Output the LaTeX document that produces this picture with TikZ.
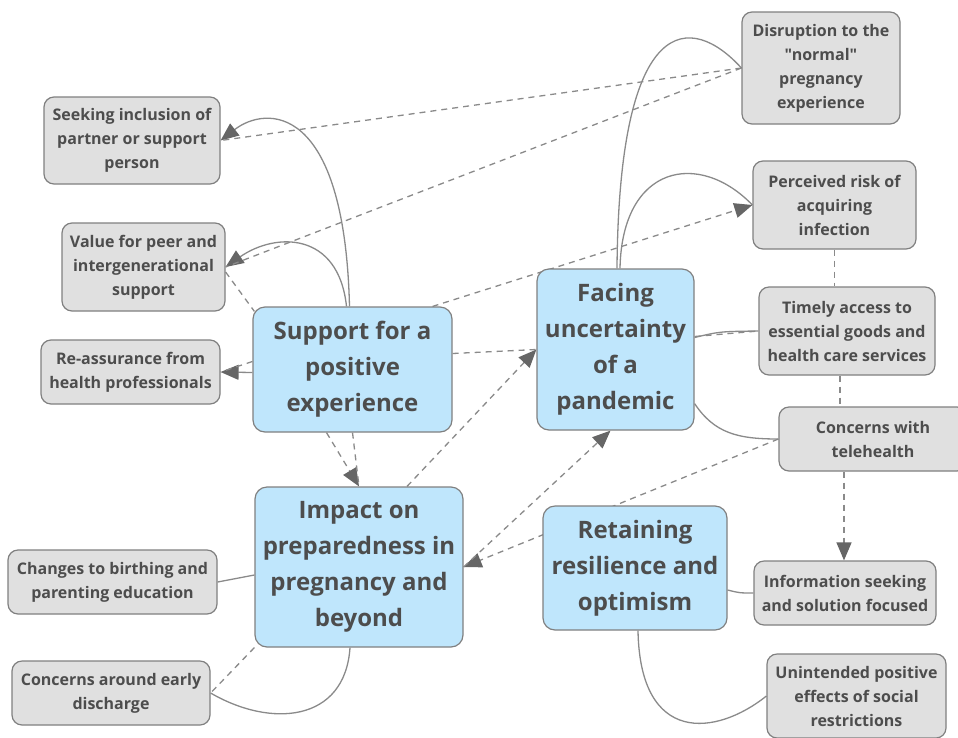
\documentclass[tikz,border=0pt]{standalone}
\usepackage{fontspec}
\setmainfont{Open Sans}[Ligatures=TeXOff]
\usetikzlibrary{arrows.meta,calc}
\definecolor{bluefill}{HTML}{BFE6FC}
\definecolor{grayfill}{HTML}{E0E0E0}
\definecolor{edgec}{HTML}{808080}
\definecolor{linec}{HTML}{8A8A8A}
\definecolor{tipc}{HTML}{666666}
\definecolor{txtc}{HTML}{4D4D4D}
\pgfdeclarelayer{bg}
\pgfsetlayers{bg,main}
\begin{document}
\begin{tikzpicture}[x=1pt,y=-1pt,
 gbox/.style={draw=edgec, fill=grayfill, rounded corners=10pt, line width=1.2pt, inner sep=0pt, align=center, text=txtc, font=\bfseries\fontsize{16}{24}\selectfont},
 bbox/.style={draw=edgec, fill=bluefill, rounded corners=12pt, line width=1.2pt, inner sep=0pt, align=center, text=txtc, font=\bfseries\fontsize{24}{36}\selectfont},
 conn/.style={draw=linec, line width=1.3pt},
 dconn/.style={conn, dash pattern=on 6pt off 5pt},
 tip/.style={-{Triangle[length=18pt,width=15pt,color=tipc]}},
]
\clip (0,0) rectangle (958,737);

% gray boxes
\node[gbox, minimum width=176pt, minimum height=87pt] (seek) at (132,140.5) {Seeking inclusion of\\partner or support\\person};
\node[gbox, minimum width=163pt, minimum height=88pt] (val) at (143.5,267) {Value for peer and\\intergenerational\\support};
\node[gbox, minimum width=179pt, minimum height=64pt] (reas) at (130.5,372) {Re-assurance from\\health professionals};
\node[gbox, minimum width=209pt, minimum height=64pt] (chg) at (112.5,582) {Changes to birthing and\\parenting education};
\node[gbox, minimum width=198pt, minimum height=64pt] (disc) at (111,693) {Concerns around early\\discharge};
\node[gbox, minimum width=158pt, minimum height=112pt] (disr) at (821,68) {Disruption to the\\"normal"\\pregnancy\\experience};
\node[gbox, minimum width=163pt, minimum height=88pt] (perc) at (834.5,205) {Perceived risk of\\acquiring\\infection};
\node[gbox, minimum width=176pt, minimum height=88pt] (tim) at (847,331) {Timely access to\\essential goods and\\health care services};
\node[gbox, minimum width=188pt, minimum height=64pt] (con) at (873,439) {Concerns with\\telehealth};
\node[gbox, minimum width=182pt, minimum height=64pt] (info) at (845,593) {Information seeking\\and solution focused};
\node[gbox, minimum width=179pt, minimum height=84pt] (unint) at (856.5,696) {Unintended positive\\effects of social\\restrictions};

% blue boxes
\node[bbox, minimum width=199pt, minimum height=125pt] (sup) at (352.5,369.5) {Support for a\\positive\\experience};
\node[bbox, minimum width=208pt, minimum height=160pt] (imp) at (359,567) {Impact on\\preparedness in\\pregnancy and\\beyond};
\node[bbox, minimum width=157pt, minimum height=161pt] (fac) at (615.5,349.5) {Facing\\uncertainty\\of a\\pandemic};
\node[bbox, minimum width=184pt, minimum height=124pt] (ret) at (635,568) {Retaining\\resilience and\\optimism};

\begin{pgfonlayer}{bg}
\draw[conn,tip] ($(sup.north)+(-3,0)$) .. controls +(-5,-205) and +(45,-35) .. (seek.east);
\draw[conn,tip] ($(sup.north)+(-6,0)$) .. controls +(-8,-75) and +(50,-35) .. (val.east);
\draw[dconn] (disr.west) -- (seek.east);
\draw[dconn] (disr.west) -- (val.east);
\draw[dconn] ($(val.east)+(0,5)$) -- ($(sup.north west)+(2,5)$);
\draw[conn,tip] ($(sup.west)+(0,3)$) -- (reas.east);
\draw[dconn] ($(sup.west)+(0,-8)$) -- (reas.east);
\draw[dconn,tip] ($(sup.south)+(-26,0)$) -- (imp.north);
\draw[dconn] (sup.south) -- (imp.north);
\draw[dconn,tip] ($(imp.north)+(48,0)$) -- (fac.west);
\draw[dconn] ($(sup.east)+(0,-16)$) -- (fac.west);
\draw[dconn,tip] ($(sup.north east)+(-20,0)$) -- (perc.west);
\draw[conn] ($(fac.north)+(1.5,0)$) .. controls +(2,-259) and +(-50,-55) .. (disr.west);
\draw[conn] ($(fac.north)+(4.5,0)$) .. controls +(2,-104) and +(-53,-55) .. (perc.west);
\draw[conn] ($(fac.east)+(0,-12)$) .. controls +(25,-6) .. (tim.west);
\draw[dconn] ($(fac.east)+(0,-13)$) -- (tim.west);
\draw[dconn] (perc.south) -- (perc.south |- tim.north);
\coordinate (a) at ($(tim.south)+(-7,0)$);
\draw[dconn] (a) -- (a |- con.north);
\draw[conn] ($(fac.south east)+(0,-27)$) .. controls +(20,30) and +(-40,0) .. (con.west);
\draw[dconn,tip] (con.west) -- (imp.east);
\draw[dconn,tip] (imp.east) -- ($(fac.south)+(-5,0)$);
\draw[conn] ($(imp.west)+(0,8)$) -- (chg.east);
\draw[conn] ($(imp.south)+(-9,0)$) .. controls +(-5,75) and +(60,35) .. (disc.east);
\draw[dconn] (imp.south west) -- (disc.east);
\draw[conn] ($(ret.east)+(0,22)$) .. controls +(12,3) .. (info.west);
\draw[conn] ($(ret.south)+(3,0)$) .. controls +(2,115) and +(-50,40) .. (unint.west);
\coordinate (b) at ($(con.south)+(-29,0)$);
\draw[dconn,tip] (b) -- (b |- info.north);
\end{pgfonlayer}
\end{tikzpicture}
\end{document}
